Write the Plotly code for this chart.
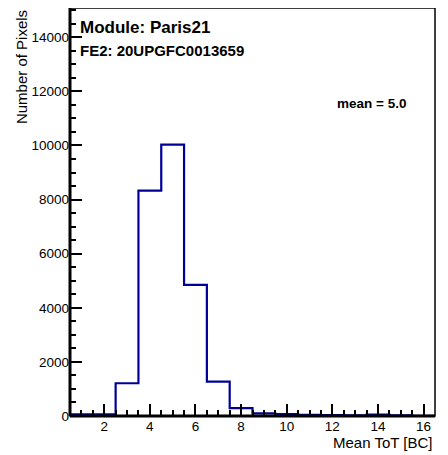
import plotly.graph_objects as go

bin_centers = list(range(1, 17))
counts = [60, 60, 1210, 8330, 10030, 4850, 1270, 290, 100, 70, 40, 30, 20, 50, 20, 10]
title_module = "Module: Paris21"
title_fe = "FE2: 20UPGFC0013659"
mean_text = "mean = 5.0"

edges = [c - 0.5 for c in bin_centers] + [bin_centers[-1] + 0.5]
ys = counts + [counts[-1]]

fig = go.Figure()
fig.add_trace(go.Scatter(x=edges, y=ys, mode="lines", line_shape="hv",
                         line=dict(color="#000099", width=2.2), showlegend=False,
                         hoverinfo="skip"))

font = "Liberation Sans, Arial, sans-serif"
fig.update_layout(
    width=440, height=447,
    margin=dict(l=62, r=13, t=0, b=39, autoexpand=False),
    paper_bgcolor="white", plot_bgcolor="white",
    font=dict(family=font, color="black", size=14),
    xaxis=dict(range=[0.5, 16.5], tickmode="linear", tick0=0, dtick=2,
               ticks="inside", ticklen=12, tickwidth=2, tickcolor="black",
               minor=dict(dtick=0.5, tick0=0, ticks="inside", ticklen=6, tickwidth=2, tickcolor="black"),
               showgrid=False, zeroline=False, showline=False, tickformat="d",
               tickfont=dict(size=13.5, family=font)),
    yaxis=dict(range=[0, 15080], tickmode="linear", tick0=0, dtick=2000,
               ticks="inside", ticklen=12, tickwidth=2, tickcolor="black",
               minor=dict(dtick=500, tick0=0, ticks="inside", ticklen=6, tickwidth=2, tickcolor="black"),
               showgrid=False, zeroline=False, showline=False, tickformat="d",
               tickfont=dict(size=13.5, family=font)),
)

# frame
fig.add_shape(type="rect", xref="paper", yref="paper", x0=0, x1=1, y0=0, y1=1,
              line=dict(color="black", width=1.5), layer="above")
fig.add_shape(type="line", xref="paper", yref="paper", x0=0, x1=0, y0=0, y1=1,
              line=dict(color="black", width=3), layer="above")
fig.add_shape(type="line", xref="paper", yref="paper", x0=0, x1=1, y0=0, y1=0,
              line=dict(color="black", width=3), layer="above")

fig.add_annotation(text="<b>%s</b>" % title_module, xref="paper", yref="paper",
                   x=0.022, y=0.953, xanchor="left", yanchor="middle", showarrow=False,
                   font=dict(size=17, family=font))
fig.add_annotation(text="<b>%s</b>" % title_fe, xref="paper", yref="paper",
                   x=0.022, y=0.895, xanchor="left", yanchor="middle", showarrow=False,
                   font=dict(size=15, family=font))
fig.add_annotation(text="<b>%s</b>" % mean_text, xref="paper", yref="paper",
                   x=0.925, y=0.767, xanchor="right", yanchor="middle", showarrow=False,
                   font=dict(size=13.5, family=font))
fig.add_annotation(text="Mean ToT [BC]", xref="paper", yref="paper",
                   x=1.0, y=-0.066, xanchor="right", yanchor="middle", showarrow=False,
                   font=dict(size=15, family=font))
fig.add_annotation(text="Number of Pixels", xref="paper", yref="paper",
                   x=-0.134, y=1.0, xanchor="center", yanchor="top", textangle=-90,
                   showarrow=False, font=dict(size=15, family=font))

fig.write_html("out.html")
